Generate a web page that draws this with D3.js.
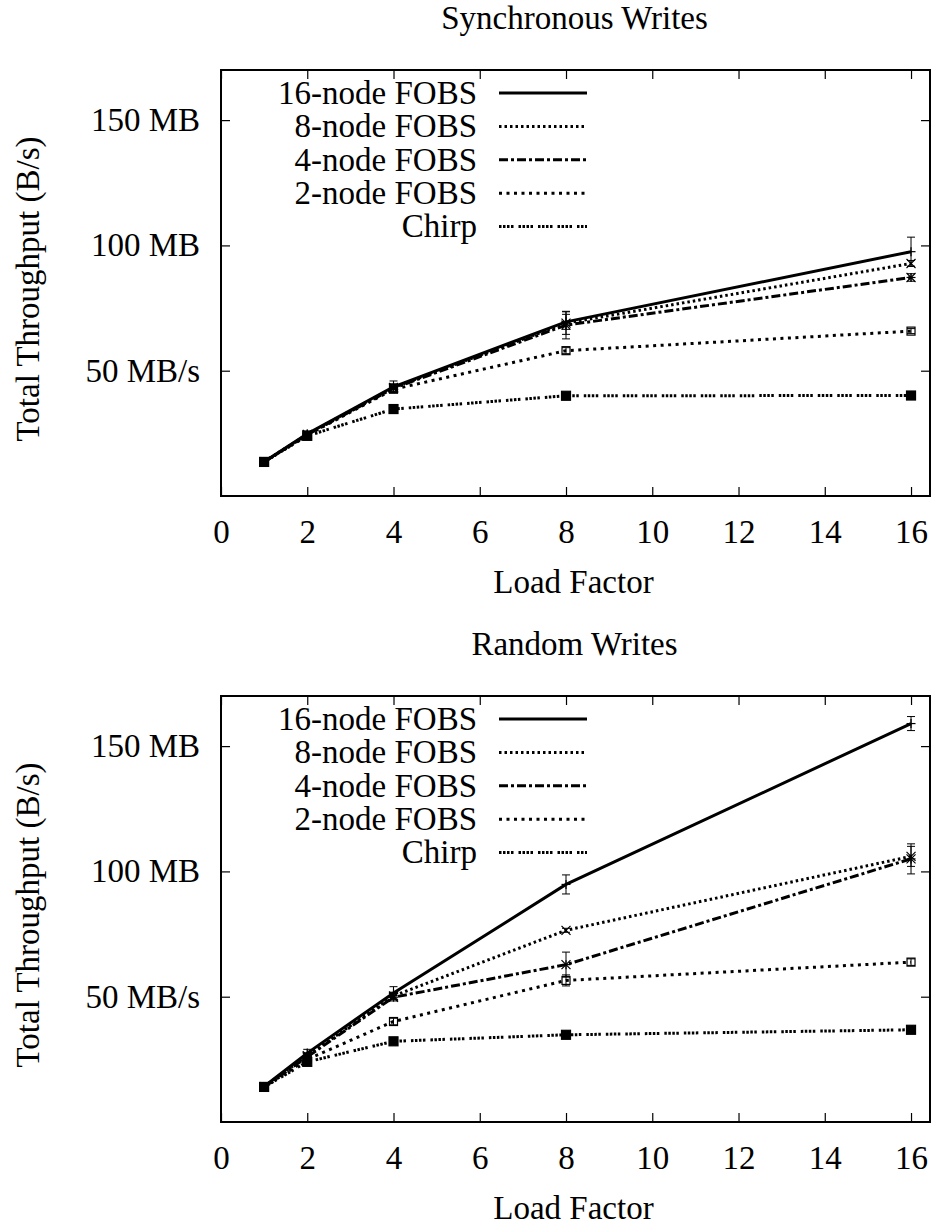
<!DOCTYPE html>
<html>
<head>
<meta charset="utf-8">
<script src="https://cdn.jsdelivr.net/npm/d3@7"></script>
<style>
  html, body { margin: 0; padding: 0; background: #fff; }
  svg text { font-family: "Liberation Serif", Tinos, "Times New Roman", Times, "DejaVu Serif", serif; fill: #000; }
</style>
</head>
<body>
<div id="chart"></div>
<script>
// podaci — load factor na x osi
const loads = [1, 2, 4, 8, 16];
const seriesNames = ['16-node FOBS', '8-node FOBS', '4-node FOBS', '2-node FOBS', 'Chirp'];
const yTicks = [50, 100, 150];
const yTickLabels = ['50 MB/s', '100 MB', '150 MB'];
const xTicks = [0, 2, 4, 6, 8, 10, 12, 14, 16];

// Synchronous Writes (MB/s) i greske
const syncFobs16 = [13.7, 24.8, 43.6, 69.5, 97.5];
const syncFobs8  = [13.7, 24.6, 43.3, 69.0, 92.8];
const syncFobs4  = [13.6, 24.5, 43.0, 68.2, 87.2];
const syncFobs2  = [13.6, 24.3, 42.6, 58.0, 65.8];
const syncChirp  = [13.6, 24.0, 34.7, 40.0, 40.1];
const syncErr16  = [0.4, 0.8, 2.3, 3.0, 5.8];
const syncErr8   = [0.4, 0.7, 1.5, 4.5, 1.2];
const syncErr4   = [0.4, 0.7, 1.5, 5.5, 1.5];
const syncErr2   = [0.3, 0.6, 1.0, 1.2, 1.0];
const syncErrC   = [0.3, 0.4, 0.5, 0.5, 0.4];

// Random Writes (MB/s) i greske
const randFobs16 = [14.2, 27.5, 51.5, 94.8, 159.0];
const randFobs8  = [14.1, 26.5, 50.3, 76.5, 106.0];
const randFobs4  = [14.0, 26.0, 49.8, 62.8, 105.0];
const randFobs2  = [14.0, 25.0, 40.1, 56.5, 63.8];
const randChirp  = [14.0, 24.0, 32.2, 34.8, 36.8];
const randErr16  = [0.5, 1.5, 2.5, 3.8, 2.8];
const randErr8   = [0.4, 1.0, 1.5, 0.8, 4.0];
const randErr4   = [0.4, 1.0, 1.5, 5.0, 6.0];
const randErr2   = [0.3, 0.8, 1.3, 2.2, 1.3];
const randErrC   = [0.3, 0.5, 0.6, 0.5, 0.5];

const W = 934, H = 1226;
const m = { left: 221, right: 930, top: 70, bottom: 496 };
const OFFSET = 626;
const FONT = '"Liberation Serif", Tinos, "Times New Roman", Times, "DejaVu Serif", serif';
const FS = 33;

// stilovi linija i markeri (gnuplot tipovi 1-5)
const styles = [
  { dash: null,               width: 3,   mark: 'plus'  },
  { dash: '2.5,3',            width: 3,   mark: 'cross' },
  { dash: '9,3,3,3',          width: 3,   mark: 'star'  },
  { dash: '3,4.5',            width: 3,   mark: 'box'   },
  { dash: '2.5,1.5,2.5,1.5,2.5,1.5,2.5,5', width: 3, mark: 'fbox' },
];

const svg = d3.select('#chart').append('svg').attr('width', W).attr('height', H)
  .attr('font-family', FONT);

const x = d3.scaleLinear().domain([0, 16.44]).range([m.left, m.right]);

function drawMarker(g, type, px, py) {
  const s = 4.5;
  if (type === 'plus' || type === 'star') {
    g.append('line').attr('x1', px - s).attr('x2', px + s).attr('y1', py).attr('y2', py);
    g.append('line').attr('x1', px).attr('x2', px).attr('y1', py - s).attr('y2', py + s);
  }
  if (type === 'cross' || type === 'star') {
    g.append('line').attr('x1', px - s).attr('x2', px + s).attr('y1', py - s).attr('y2', py + s);
    g.append('line').attr('x1', px - s).attr('x2', px + s).attr('y1', py + s).attr('y2', py - s);
  }
  if (type === 'box') {
    g.append('rect').attr('x', px - 4).attr('y', py - 4).attr('width', 8).attr('height', 8).attr('fill', 'none');
  }
  if (type === 'fbox') {
    g.append('rect').attr('x', px - 4.5).attr('y', py - 4.5).attr('width', 9).attr('height', 9).attr('fill', '#000');
  }
}

function drawPanel(dy, title, series, errs) {
  const y = d3.scaleLinear().domain([0, 170]).range([m.bottom + dy, m.top + dy]);
  const g = svg.append('g');

  // naslov
  g.append('text').attr('x', (m.left + m.right) / 2 - 1).attr('y', 29 + dy)
    .attr('text-anchor', 'middle').attr('font-size', FS).text(title);

  // y os lijevo + desno (mirror)
  const yl = g.append('g').attr('transform', `translate(${m.left},0)`)
    .call(d3.axisLeft(y).tickValues(yTicks).tickSize(-9).tickPadding(21)
      .tickFormat((d, i) => yTickLabels[i]));
  const yr = g.append('g').attr('transform', `translate(${m.right},0)`)
    .call(d3.axisRight(y).tickValues(yTicks).tickSize(-9).tickFormat(''));
  const xb = g.append('g').attr('transform', `translate(0,${m.bottom + dy})`)
    .call(d3.axisBottom(x).tickValues(xTicks).tickSize(-9).tickPadding(24));
  const xt = g.append('g').attr('transform', `translate(0,${m.top + dy})`)
    .call(d3.axisTop(x).tickValues(xTicks).tickSize(-9).tickFormat(''));
  [yl, yr, xb, xt].forEach(a => {
    a.attr('font-family', FONT).attr('font-size', FS);
    a.select('.domain').remove();
    a.selectAll('.tick line').attr('stroke', '#000').attr('stroke-width', 1.2);
    a.selectAll('.tick text').attr('fill', '#000');
  });

  // okvir
  g.append('rect').attr('x', m.left).attr('y', m.top + dy)
    .attr('width', m.right - m.left).attr('height', m.bottom - m.top)
    .attr('fill', 'none').attr('stroke', '#000').attr('stroke-width', 2);

  // oznake osi
  g.append('text').attr('x', (m.left + m.right) / 2 - 2).attr('y', 593 + dy)
    .attr('text-anchor', 'middle').attr('font-size', FS).text('Load Factor');
  g.append('text').attr('transform', `translate(39,${289 + dy}) rotate(-90)`)
    .attr('text-anchor', 'middle').attr('font-size', FS).text('Total Throughput (B/s)');

  const line = d3.line().x((d, i) => x(loads[i])).y(d => y(d));

  // crtamo od zadnje serije prema prvoj da puna linija bude gore
  for (let k = series.length - 1; k >= 0; k--) {
    const st = styles[k], vals = series[k], er = errs[k];
    const sg = g.append('g');
    // error bars
    const eg = sg.append('g').attr('stroke', '#000').attr('stroke-width', 1);
    vals.forEach((v, i) => {
      const px = x(loads[i]);
      const y1 = y(v - er[i]), y2 = y(v + er[i]);
      eg.append('line').attr('x1', px).attr('x2', px).attr('y1', y1).attr('y2', y2);
      eg.append('line').attr('x1', px - 4).attr('x2', px + 4).attr('y1', y1).attr('y2', y1);
      eg.append('line').attr('x1', px - 4).attr('x2', px + 4).attr('y1', y2).attr('y2', y2);
    });
    sg.append('path').datum(vals).attr('d', line)
      .attr('fill', 'none').attr('stroke', '#000').attr('stroke-width', st.width)
      .attr('stroke-dasharray', st.dash);
    const mg = sg.append('g').attr('stroke', '#000').attr('stroke-width', 1.2);
    vals.forEach((v, i) => drawMarker(mg, st.mark, x(loads[i]), y(v)));
  }

  // legenda
  seriesNames.forEach((name, k) => {
    const ly = 93 + k * 33.4 + dy;
    g.append('text').attr('x', 477).attr('y', ly).attr('dy', '0.33em')
      .attr('text-anchor', 'end').attr('font-size', FS).text(name);
    g.append('line').attr('x1', 499).attr('x2', 587).attr('y1', ly).attr('y2', ly)
      .attr('stroke', '#000').attr('stroke-width', styles[k].width)
      .attr('stroke-dasharray', styles[k].dash);
  });
}

drawPanel(0, 'Synchronous Writes',
  [syncFobs16, syncFobs8, syncFobs4, syncFobs2, syncChirp],
  [syncErr16, syncErr8, syncErr4, syncErr2, syncErrC]);
drawPanel(OFFSET, 'Random Writes',
  [randFobs16, randFobs8, randFobs4, randFobs2, randChirp],
  [randErr16, randErr8, randErr4, randErr2, randErrC]);
</script>
</body>
</html>
